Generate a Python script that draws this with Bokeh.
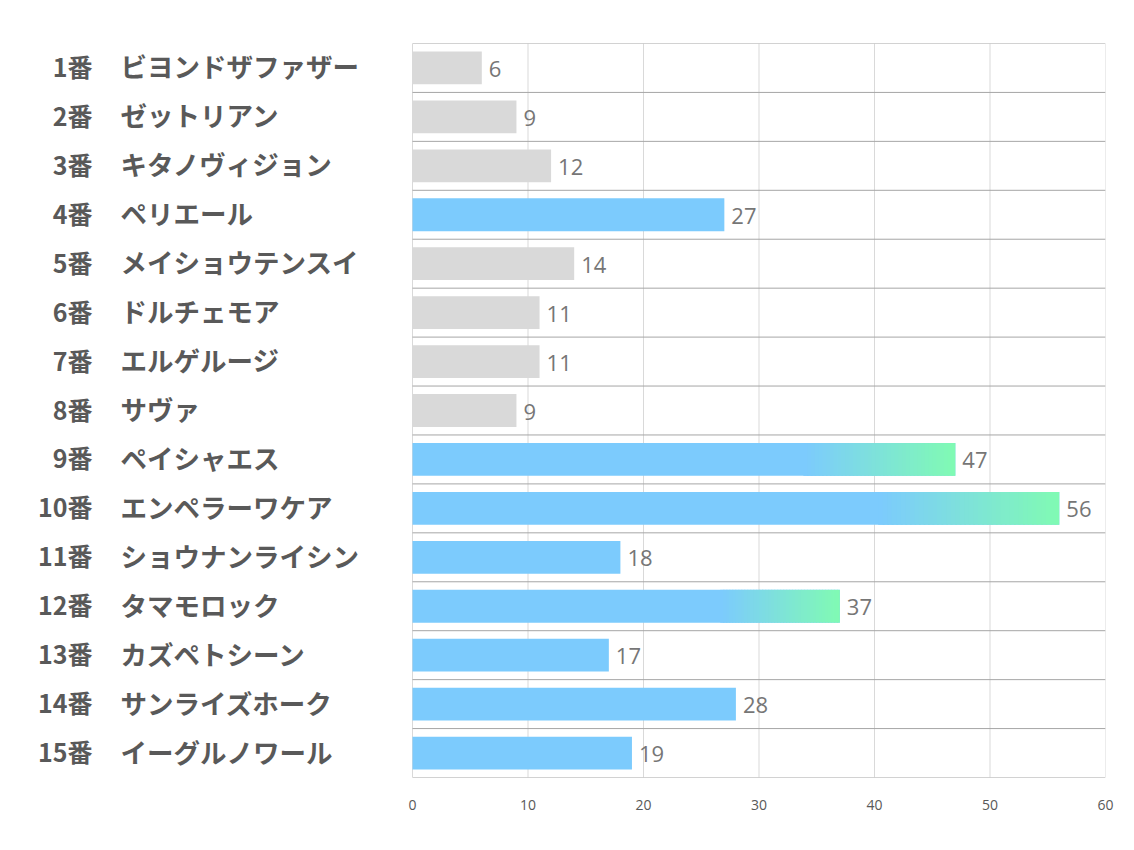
from bokeh.plotting import figure
from bokeh.models import Range1d, FixedTicker
from bokeh.core.properties import value
from bokeh.embed import file_html
from bokeh.resources import INLINE

# ---- data ----
numbers = ["1番", "2番", "3番", "4番", "5番", "6番", "7番", "8番", "9番", "10番",
           "11番", "12番", "13番", "14番", "15番"]
names = ["ビヨンドザファザー", "ゼットリアン", "キタノヴィジョン", "ペリエール",
         "メイショウテンスイ", "ドルチェモア", "エルゲルージ", "サヴァ", "ペイシャエス",
         "エンペラーワケア", "ショウナンライシン", "タマモロック", "カズペトシーン",
         "サンライズホーク", "イーグルノワール"]
values = [6, 9, 12, 27, 14, 11, 11, 9, 47, 56, 18, 37, 17, 28, 19]
styles = ["grey", "grey", "grey", "blue", "grey", "grey", "grey", "grey", "grad",
          "grad", "blue", "grad", "blue", "blue", "blue"]
x_ticks = [0, 10, 20, 30, 40, 50, 60]

GREY = (217, 217, 217)
BLUE = (124, 203, 253)
GREEN = (128, 250, 180)

def hexc(c):
    return "#%02x%02x%02x" % tuple(int(round(v)) for v in c)

# ---- layout ----
W, H = 1134, 850
frame_left_px = 10
zero_px = 412
right_px = 1105
ppu = (right_px - zero_px) / 60.0
x_start = -(zero_px - frame_left_px) / ppu

n = len(values)
p = figure(width=W, height=H, output_backend="svg", toolbar_location=None,
           x_range=Range1d(x_start, 60), y_range=Range1d(n, 0),
           y_axis_location=None, min_border_left=frame_left_px,
           min_border_right=W - right_px, min_border_top=43, min_border_bottom=H - 777)
p.outline_line_color = None
p.xgrid.visible = False
p.ygrid.visible = False
p.background_fill_color = "white"
p.border_fill_color = "white"

ax = p.xaxis[0]
ax.ticker = FixedTicker(ticks=x_ticks)
ax.axis_line_color = None
ax.major_tick_line_color = None
ax.minor_tick_line_color = None
ax.major_label_text_font = "Open Sans"
ax.major_label_text_font_size = "14px"
ax.major_label_text_color = "#595959"
ax.major_label_standoff = 16

# vertical grid lines
p.segment(x0=x_ticks, y0=[0] * len(x_ticks), x1=x_ticks, y1=[n] * len(x_ticks),
          line_color="#D9D9D9", line_width=1)
# horizontal row lines
bounds = list(range(n + 1))
p.segment(x0=[0] * len(bounds), y0=bounds, x1=[60] * len(bounds), y1=bounds,
          line_color="#A6A6A6", line_width=1)

ys = [i + 0.5 for i in range(n)]
bh = 0.67
colors = [hexc(GREY) if s == "grey" else hexc(BLUE) for s in styles]
p.hbar(y=ys, left=0, right=values, height=bh, fill_color=colors, line_color=None)

# gradient overlay on highlighted bars
steps = 40
gl, gr, gy, gc = [], [], [], []
for y, v, s in zip(ys, values, styles):
    if s != "grad":
        continue
    start = v * 0.72
    span = v - start
    for k in range(steps):
        t = k / (steps - 1)
        a = start + span * k / steps
        b = min(v, start + span * (k + 1) / steps + span * 0.01)
        c = tuple(BLUE[j] + (GREEN[j] - BLUE[j]) * t for j in range(3))
        gl.append(a); gr.append(b); gy.append(y); gc.append(hexc(c))
p.hbar(y=gy, left=gl, right=gr, height=bh, fill_color=gc, line_color=None)

# value labels
p.text(x=values, y=ys, text=[str(v) for v in values], x_offset=7, y_offset=1,
       text_align="left", text_baseline="middle", text_font=value("Open Sans"),
       text_font_size="22px", text_color="#767676")

# category labels
num_x = (92 - zero_px) / ppu
name_x = (120 - zero_px) / ppu
p.text(x=[num_x] * n, y=ys, text=numbers, y_offset=-2, text_align="right",
       text_baseline="middle", text_font=value("Noto Sans CJK JP"),
       text_font_style="bold", text_font_size="25px", text_color="#595959")
p.text(x=[name_x] * n, y=ys, text=names, y_offset=-2, text_align="left",
       text_baseline="middle", text_font=value("Noto Sans CJK JP"),
       text_font_style="bold", text_font_size="26.5px", text_color="#595959")

open("out.html", "w").write(file_html(p, INLINE))
